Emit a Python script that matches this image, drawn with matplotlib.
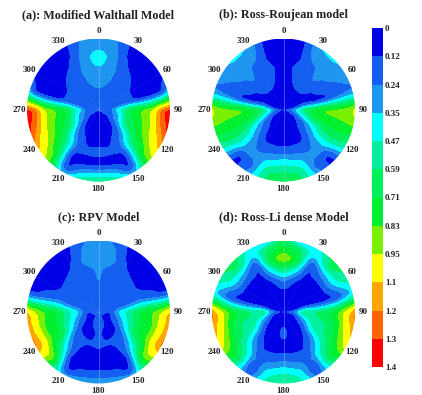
import numpy as np
import matplotlib
matplotlib.use("Agg")
import matplotlib.pyplot as plt
from matplotlib.patches import Circle

plt.rcParams['font.family'] = ['Liberation Serif', 'DejaVu Serif']

# view azimuth rows (right half, the left half is mirrored), view zenith columns
theta_deg = [0, 15, 30, 45, 60, 75, 90, 105, 120, 135, 150, 165, 180]
radius = [0, 0.15, 0.3, 0.45, 0.6, 0.75, 0.9, 1.03]

walthall = [
    [.12, .17, .24, .30, .35, .42, .32, .27],
    [.12, .17, .22, .27, .31, .30, .27, .25],
    [.12, .16, .18, .20, .18, .13, .07, .06],
    [.12, .15, .18, .18, .14, .06, .04, .05],
    [.12, .15, .16, .14, .07, .04, .04, .08],
    [.12, .15, .18, .14, .08, .06, .08, .30],
    [.12, .17, .45, .72, .84, .98, 1.30, 1.42],
    [.12, .16, .36, .68, .80, .94, 1.20, 1.36],
    [.12, .12, .30, .58, .72, .88, 1.04, 1.20],
    [.10, .06, .15, .28, .52, .66, .84, .90],
    [.08, .05, .05, .16, .17, .06, .06, .30],
    [.08, .04, .04, .07, .15, .04, .32, .60],
    [.08, .04, .04, .09, .16, .05, .38, .68],
]
ross_roujean = [
    [.05, .05, .05, .05, .05, .05, .05, .05],
    [.05, .09, .10, .11, .14, .08, .06, .06],
    [.05, .09, .10, .18, .20, .22, .31, .35],
    [.05, .09, .10, .21, .25, .26, .31, .40],
    [.05, .08, .06, .10, .20, .24, .26, .28],
    [.05, .07, .15, .08, .07, .14, .20, .22],
    [.05, .30, .64, .78, .87, .89, .93, 1.06],
    [.05, .20, .45, .68, .74, .78, .80, .80],
    [.05, .10, .20, .36, .53, .60, .59, .52],
    [.05, .04, .14, .22, .28, .28, .08, .04],
    [.05, .04, .04, .07, .18, .27, .18, .28],
    [.05, .04, .04, .06, .20, .38, .58, .62],
    [.05, .04, .04, .06, .20, .44, .62, .76],
]
rpv = [
    [.20, .22, .23, .25, .26, .31, .32, .28],
    [.20, .18, .20, .19, .20, .28, .25, .20],
    [.20, .18, .18, .18, .16, .12, .06, .05],
    [.20, .18, .18, .17, .14, .07, .04, .04],
    [.20, .18, .18, .16, .12, .06, .04, .05],
    [.20, .17, .18, .20, .24, .20, .12, .09],
    [.18, .11, .38, .56, .73, .84, 1.00, 1.20],
    [.16, .08, .30, .52, .70, .78, 1.02, 1.22],
    [.15, .08, .18, .42, .70, .82, 1.10, 1.25],
    [.14, .07, .09, .18, .32, .58, .88, .76],
    [.15, .10, .07, .14, .12, .04, .08, .30],
    [.18, .16, .08, .13, .06, .04, .18, .36],
    [.20, .26, .15, .15, .08, .05, .20, .38],
]
ross_li = [
    [.05, .05, .10, .28, .62, .96, .74, .68],
    [.05, .05, .07, .15, .42, .72, .62, .22],
    [.05, .05, .04, .06, .10, .10, .34, .44],
    [.05, .05, .04, .04, .08, .28, .62, .68],
    [.05, .05, .04, .05, .07, .32, .52, .58],
    [.05, .05, .09, .07, .06, .08, .20, .36],
    [.05, .25, .62, .60, .68, .82, 1.08, 1.28],
    [.05, .11, .40, .56, .58, .72, 1.02, 1.18],
    [.05, .06, .18, .45, .56, .65, .88, 1.04],
    [.05, .05, .07, .16, .30, .52, .68, .52],
    [.05, .05, .05, .06, .12, .20, .07, .18],
    [.05, .09, .09, .05, .12, .25, .44, .52],
    [.05, .08, .18, .08, .13, .32, .52, .62],
]

titles = ["(a): Modified Walthall Model", "(b): Ross-Roujean model",
          "(c): RPV Model", "(d): Ross-Li dense Model"]
panels = [walthall, ross_roujean, rpv, ross_li]

levels = [0, 0.12, 0.24, 0.35, 0.47, 0.59, 0.71, 0.83, 0.95, 1.1, 1.2, 1.3, 1.4]
level_labels = ["0", "0.12", "0.24", "0.35", "0.47", "0.59", "0.71", "0.83", "0.95", "1.1", "1.2", "1.3", "1.4"]
colors = ["#0000e6", "#145ff0", "#1e96f0", "#00ffff", "#00f0a0", "#00f05a", "#00f030",
          "#78f000", "#ffff00", "#ffa500", "#ff6400", "#ff0000"]
azimuth_labels = [0, 30, 60, 90, 120, 150, 180, 210, 240, 270, 300, 330]

W, H = 422, 395
centers = [(98.5, 110), (283.5, 110), (98.5, 312), (283.5, 312)]
R = 71.5

fine_t = np.arange(0, 181, 1.0)
fine_r = np.linspace(0, 1.03, 104)


def smooth_field(values):
    # resample the read values on a fine polar grid, then soften the grid corners
    values = np.array(values)
    by_r = np.array([np.interp(fine_r, radius, row) for row in values])
    by_t = np.array([np.interp(fine_t, theta_deg, col) for col in by_r.T]).T
    z = np.vstack([by_t[:0:-1], by_t])
    kernel = np.ones(7) / 7
    for _ in range(2):
        wrapped = np.vstack([z[-4:-1], z, z[1:4]])
        wrapped = np.apply_along_axis(np.convolve, 0, wrapped, kernel, mode="same")
        z = wrapped[3:-3]
    kernel = np.ones(5) / 5
    pad = np.pad(z, ((0, 0), (2, 2)), mode="edge")
    z = np.apply_along_axis(np.convolve, 1, pad, kernel, mode="valid")
    t = np.radians(np.concatenate([-fine_t[:0:-1], fine_t]))
    tt, rr = np.meshgrid(t, fine_r, indexing="ij")
    return rr * np.sin(tt), rr * np.cos(tt), np.clip(z, 0.005, 1.395)


fig = plt.figure(figsize=(W / 100, H / 100), dpi=100)

for (cx, cy), title, values in zip(centers, titles, panels):
    ax = fig.add_axes([(cx - R) / W, 1 - (cy + R) / H, 2 * R / W, 2 * R / H])
    x, y, z = smooth_field(values)
    cs = ax.contourf(x, y, z, levels=levels, colors=colors)
    circle = Circle((0, 0), 1, transform=ax.transData, fc="none", ec="none")
    ax.add_patch(circle)
    cs.set_clip_path(circle)
    for a in azimuth_labels:
        s = np.sin(np.radians(a))
        c = np.cos(np.radians(a))
        if a % 180 == 0:
            ax.plot([0, s], [0, c], color="#a8c8f0", lw=0.4, alpha=0.7)
        else:
            ax.plot([0, s], [0, c], color="#ffffff", lw=0.3, alpha=0.12)
        ax.text(1.11 * s, 1.11 * c, str(a), ha="center", va="center",
                fontsize=6.5, fontweight="bold", color="#222222")
    ax.text(0, 1.33, title, ha="center", va="center", fontsize=8.7,
            fontweight="bold", color="#222222")
    ax.set_xlim(-1, 1)
    ax.set_ylim(-1, 1)
    ax.axis("off")

cax = fig.add_axes([372 / W, 1 - 367 / H, 11 / W, 339 / H])
cb = fig.colorbar(cs, cax=cax)
cb.set_ticks(levels)
cb.set_ticklabels(level_labels)
cb.ax.invert_yaxis()
cb.ax.tick_params(length=0, pad=1.5)
for lab in cb.ax.get_yticklabels():
    lab.set_fontsize(6.5)
    lab.set_fontweight("bold")
    lab.set_color("#222222")
cb.outline.set_visible(False)

fig.savefig("out.png", dpi=100)
